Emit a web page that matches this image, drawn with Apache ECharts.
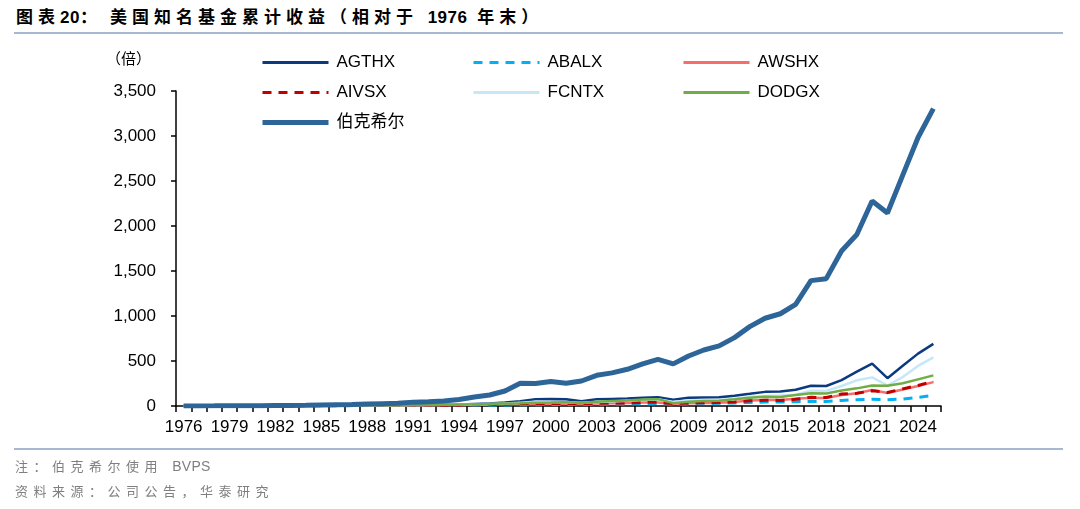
<!DOCTYPE html>
<html>
<head>
<meta charset="utf-8">
<script src="https://cdn.jsdelivr.net/npm/echarts@6/dist/echarts.min.js"></script>
<style>
	body{margin:0;background:#fff}
	#wrap{position:relative;width:1080px;height:509px;overflow:hidden;background:#fff}
	#chart{position:absolute;left:0;top:0;width:1080px;height:509px}
	.title{position:absolute;left:16px;top:7px;font:bold 17px "Liberation Sans","Noto Sans CJK SC";letter-spacing:5px;color:#000;white-space:nowrap;line-height:22px}
	.title .num{letter-spacing:0.5px}
	.rule{position:absolute;left:14px;width:1049px;height:2px;background:#a7b9d0}
	.note{position:absolute;left:15px;font:13px "Liberation Sans","Noto Sans CJK SC";letter-spacing:5.5px;color:#7f7f7f;white-space:nowrap;line-height:18px}
	.note .num{letter-spacing:0.3px;font-size:14px}
</style>
</head>
<body>
<div id="wrap">
	<div class="title">图表<span class="num">20</span>：<span style="margin-left:8px"></span>美国知名基金累计收益（相对于 <span class="num">1976</span> 年末）</div>
	<div class="rule" style="top:32px"></div>
	<div id="chart"></div>
	<div class="rule" style="top:448px"></div>
	<div class="note" style="top:457px">注：伯克希尔使用 <span class="num">BVPS</span></div>
	<div class="note" style="top:483px">资料来源：公司公告，华泰研究</div>
</div>
<script>
// 年份（1976 年末 = 1）
const years = ["1976","1977","1978","1979","1980","1981","1982","1983","1984","1985",
	"1986","1987","1988","1989","1990","1991","1992","1993","1994","1995",
	"1996","1997","1998","1999","2000","2001","2002","2003","2004","2005",
	"2006","2007","2008","2009","2010","2011","2012","2013","2014","2015",
	"2016","2017","2018","2019","2020","2021","2022","2023","2024","2025"]

const agthx = [1,1.1,1.4,1.9,2.7,2.6,3.4,4.1,4,5.2,
	6,6.5,7.5,10,9.5,12,14,16,16,22,
	27,38,54,74,78,74,52,74,78,82,
	93,96,70,92,94,96,115,135,157,160,
	180,225,222,287,381,470,309,447,582,690]
const abalx = [1,1.1,1.2,1.3,1.5,1.7,2.1,2.5,2.7,3.3,
	3.8,4,4.5,5.4,5.5,6.5,7,7.7,7.4,9.4,
	10.5,12.4,14,14.3,16.6,17.8,16.8,20,22,23,
	26,27,21,25,28,30,34,40,44,44,
	48,52,50,62,70,76,70,78,95,118]
const awshx = [1,1,1.1,1.2,1.4,1.6,2,2.5,2.8,3.6,
	4.3,4.5,5.3,6.6,6.5,8,8.8,9.9,9.8,13.5,
	16,21,24,23,26,27,23,28,31,33,
	38,40,26,30,34,36,45,60,68,66,
	80,93,90,122,142,178,145,184,222,265]
const aivsx = [1,1.05,1.15,1.3,1.5,1.6,2,2.5,2.7,3.4,
	4,4.3,5,6.2,6.1,7.5,8.4,9.5,9.6,13,
	15.5,20,24,25,27,27,23,30,33,35,
	40,42,28,34,38,38,44,58,64,62,
	74,96,95,133,141,170,150,190,228,276]
const fcntx = [1,1.1,1.3,1.6,2.1,2.1,2.7,3.3,3.2,4.3,
	5,5.3,6.1,8.2,8,11,12,14.5,14.5,19.5,
	22,28,37,46,45,40,35,44,50,58,
	66,75,46,60,68,67,78,102,112,118,
	126,170,168,222,285,318,228,322,445,540]
const dodgx = [1,1.15,1.3,1.6,2,2.4,3,4,4.4,5.5,
	6.3,6.8,8,9.5,9,11,12.5,15,15,20,
	23,29,31,35,38,42,34,46,55,60,
	72,76,32,48,56,58,74,92,104,100,
	122,142,140,172,196,228,224,252,296,340]
const brk = [1,1.3,1.6,2.2,2.7,3.5,4.9,6.5,7.4,11,
	14,16.5,22,26,30,43,48,56,72,100,
	122,167,252,250,272,252,278,341,368,408,
	467,519,468,556,622,668,760,882,975,1025,
	1130,1393,1415,1722,1905,2278,2145,2565,2983,3305]

const yTicks = {min:0,max:3500,step:500}

const latin = '"Liberation Sans","Noto Sans CJK SC"'

// 每条线的样式
function line(name,data,color,width,type){
	return {
		name: name,
		type: "line",
		data: data,
		symbol: "none",
		smooth: false,
		lineStyle: {color: color, width: width, type: type || "solid"},
		itemStyle: {color: color},
		emphasis: {disabled: true}
	}
}

// 图例分三列竖排，保证列对齐；只画线，不画圆点
function legendCol(left,names){
	return {
		orient: "vertical",
		left: left,
		top: 54,
		padding: 0,
		itemWidth: 66,
		itemHeight: 14,
		itemGap: 13,
		selectedMode: false,
		itemStyle: {opacity: 0},
		lineStyle: {width: 3},
		data: names,
		textStyle: {fontSize: 17, fontFamily: latin, color: "#000", padding: [0,0,0,3]}
	}
}

const chart = echarts.init(document.getElementById("chart"))
chart.setOption({
	animation: false,
	backgroundColor: "transparent",
	grid: {left: 176, right: 139, top: 91, bottom: 103},
	legend: [
		legendCol(260,["AGTHX","AIVSX",{name:"伯克希尔",lineStyle:{width:5}}]),
		legendCol(472,["ABALX","FCNTX"]),
		legendCol(682,["AWSHX","DODGX"])
	],
	graphic: [{
		type: "text",
		left: 106,
		top: 51,
		style: {text: "（倍）", font: '15px "Noto Sans CJK SC"', fill: "#000"}
	}],
	xAxis: {
		type: "category",
		data: years,
		boundaryGap: true,
		axisLine: {lineStyle: {color: "#000", width: 1.5}},
		axisTick: {show: true, interval: 0, length: 6, lineStyle: {color: "#000", width: 1.5}},
		axisLabel: {interval: 2, fontSize: 17, fontFamily: latin, color: "#000", margin: 13},
		splitLine: {show: false}
	},
	yAxis: {
		type: "value",
		min: yTicks.min,
		max: yTicks.max,
		interval: yTicks.step,
		axisLine: {show: true, lineStyle: {color: "#000", width: 1.5}},
		axisTick: {show: true, length: 5, lineStyle: {color: "#000", width: 1.5}},
		axisLabel: {
			fontSize: 17, fontFamily: latin, color: "#000", margin: 20,
			formatter: v => v.toLocaleString("en-US")
		},
		splitLine: {show: false}
	},
	series: [
		line("AGTHX",agthx,"#0c3a7f",2.5),
		line("ABALX",abalx,"#00b0f0",3,[9,7]),
		line("AWSHX",awshx,"#f86c6b",2.5),
		line("AIVSX",aivsx,"#c00000",3,[9,7]),
		line("FCNTX",fcntx,"#c6e7f8",2.5),
		line("DODGX",dodgx,"#70ad47",2.5),
		line("伯克希尔",brk,"#2e6598",5)
	]
})
</script>
</body>
</html>
